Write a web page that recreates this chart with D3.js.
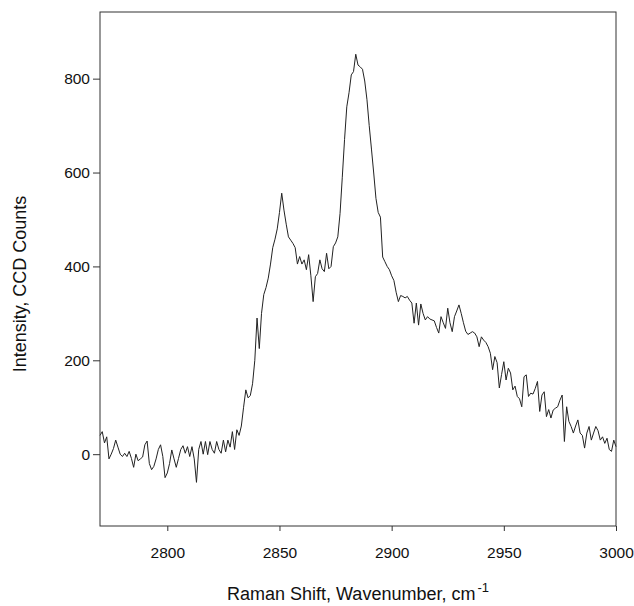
<!DOCTYPE html>
<html lang="en">
<head>
    <meta charset="UTF-8">
    <title>Raman Spectrum</title>
    <style>
        body {
            margin: 0;
            padding: 0;
            background-color: white;
        }
        svg {
            display: block;
            font-family: "Liberation Sans", Arial, sans-serif;
        }
        .frame {
            fill: none;
            stroke: #333;
            stroke-width: 1px;
        }
        .axis path {
            display: none;
        }
        .axis line {
            stroke: #333;
        }
        .axis text {
            font-size: 15.5px;
            fill: #111;
        }
        .spectrum {
            fill: none;
            stroke: #222;
            stroke-width: 1px;
        }
        .title {
            font-size: 18px;
            fill: #111;
        }
    </style>
</head>
<body>
    <svg id="chart" width="634" height="606"></svg>

    <script src="https://d3js.org/d3.v7.min.js"></script>
    <script>
        // Raman shift (cm-1), one reading per wavenumber
        const wavenumbers = [
            2770, 2771, 2772, 2773, 2774, 2775, 2776, 2777, 2778, 2779,
            2780, 2781, 2782, 2783, 2784, 2785, 2786, 2787, 2788, 2789,
            2790, 2791, 2792, 2793, 2794, 2795, 2796, 2797, 2798, 2799,
            2800, 2801, 2802, 2803, 2804, 2805, 2806, 2807, 2808, 2809,
            2810, 2811, 2812, 2813, 2814, 2815, 2816, 2817, 2818, 2819,
            2820, 2821, 2822, 2823, 2824, 2825, 2826, 2827, 2828, 2829,
            2830, 2831, 2832, 2833, 2834, 2835, 2836, 2837, 2838, 2839,
            2840, 2841, 2842, 2843, 2844, 2845, 2846, 2847, 2848, 2849,
            2850, 2851, 2852, 2853, 2854, 2855, 2856, 2857, 2858, 2859,
            2860, 2861, 2862, 2863, 2864, 2865, 2866, 2867, 2868, 2869,
            2870, 2871, 2872, 2873, 2874, 2875, 2876, 2877, 2878, 2879,
            2880, 2881, 2882, 2883, 2884, 2885, 2886, 2887, 2888, 2889,
            2890, 2891, 2892, 2893, 2894, 2895, 2896, 2897, 2898, 2899,
            2900, 2901, 2902, 2903, 2904, 2905, 2906, 2907, 2908, 2909,
            2910, 2911, 2912, 2913, 2914, 2915, 2916, 2917, 2918, 2919,
            2920, 2921, 2922, 2923, 2924, 2925, 2926, 2927, 2928, 2929,
            2930, 2931, 2932, 2933, 2934, 2935, 2936, 2937, 2938, 2939,
            2940, 2941, 2942, 2943, 2944, 2945, 2946, 2947, 2948, 2949,
            2950, 2951, 2952, 2953, 2954, 2955, 2956, 2957, 2958, 2959,
            2960, 2961, 2962, 2963, 2964, 2965, 2966, 2967, 2968, 2969,
            2970, 2971, 2972, 2973, 2974, 2975, 2976, 2977, 2978, 2979,
            2980, 2981, 2982, 2983, 2984, 2985, 2986, 2987, 2988, 2989,
            2990, 2991, 2992, 2993, 2994, 2995, 2996, 2997, 2998, 2999,
            3000
        ];

        // CCD counts
        const counts = [
            40, 48, 24, 37, -10, 0, 12, 30, 15, 0,
            -5, 2, -5, 6, -9, -28, 0, -14, -10, -6,
            20, 28, -20, -33, -26, -10, 10, 20, -5, -50,
            -40, -20, 9, -10, -28, -9, 10, 18, 2, 16,
            -5, 16, -10, -60, 10, 27, 0, 27, -1, 27,
            10, 2, 27, 10, 2, 30, 5, 30, 15, 48,
            10, 52, 40, 60, 100, 137, 120, 125, 150, 200,
            290, 225, 300, 340, 355, 375, 405, 440, 458, 480,
            515, 556, 520, 490, 463, 456, 449, 440, 405, 421,
            405, 414, 393, 425, 380, 325, 378, 385, 414, 395,
            389, 428, 395, 400, 442, 450, 463, 513, 590, 670,
            740, 770, 808, 815, 852, 829, 825, 820, 795, 755,
            700, 650, 599, 545, 515, 505, 420, 410, 400, 393,
            380, 370, 345, 325, 338, 336, 333, 336, 328, 322,
            279, 322, 275, 320, 300, 286, 293, 288, 286, 284,
            270, 258, 293, 280, 268, 311, 280, 261, 293, 305,
            318, 300, 280, 262, 255, 258, 261, 258, 250, 229,
            250, 243, 238, 229, 215, 180, 208, 195, 141, 170,
            197, 158, 183, 173, 137, 145, 123, 118, 101, 165,
            169, 123, 130, 128, 140, 155, 91, 126, 133, 80,
            95, 77, 94, 98, 101, 115, 126, 27, 101, 70,
            59, 45, 60, 73, 45, 40, 13, 45, 59, 30,
            45, 59, 50, 30, 37, 23, 34, 10, 6, 30,
            16
        ];

        const xTicks = [2800, 2850, 2900, 2950, 3000];
        const yTicks = [0, 200, 400, 600, 800];
        const xDomain = [2770, 3000];
        const yDomain = [-153, 942];

        const svg = d3.select('#chart'),
            width = +svg.attr('width'),
            height = +svg.attr('height'),
            margin = {top: 12, right: 18, bottom: 80, left: 100};

        const x = d3.scaleLinear()
            .domain(xDomain)
            .range([margin.left, width - margin.right]);

        const y = d3.scaleLinear()
            .domain(yDomain)
            .range([height - margin.bottom, margin.top]);

        const points = wavenumbers.map((w, i) => ({w: w, c: counts[i]}));

        // axes
        svg.append('g')
            .attr('class', 'axis')
            .attr('transform', `translate(0,${height - margin.bottom})`)
            .call(d3.axisBottom(x).tickValues(xTicks).tickFormat(d3.format('d')).tickSize(5).tickPadding(16));

        svg.append('g')
            .attr('class', 'axis')
            .attr('transform', `translate(${margin.left},0)`)
            .call(d3.axisLeft(y).tickValues(yTicks).tickFormat(d3.format('d')).tickSize(7).tickPadding(3));

        // spectrum line
        const line = d3.line()
            .x(d => x(d.w))
            .y(d => y(d.c));

        svg.append('path')
            .datum(points)
            .attr('class', 'spectrum')
            .attr('d', line);

        // box around the plot
        svg.append('rect')
            .attr('class', 'frame')
            .attr('x', margin.left)
            .attr('y', margin.top)
            .attr('width', width - margin.left - margin.right)
            .attr('height', height - margin.top - margin.bottom);

        // axis titles
        const xTitle = svg.append('text')
            .attr('class', 'title')
            .attr('x', (margin.left + width - margin.right) / 2)
            .attr('y', 600)
            .attr('text-anchor', 'middle');
        xTitle.append('tspan').text('Raman Shift, Wavenumber, cm');
        xTitle.append('tspan')
            .attr('dy', -8)
            .attr('dx', 2)
            .style('font-size', '13px')
            .text('-1');

        svg.append('text')
            .attr('class', 'title')
            .attr('transform', 'translate(26,284) rotate(-90)')
            .attr('text-anchor', 'middle')
            .text('Intensity, CCD Counts');
    </script>
</body>
</html>
